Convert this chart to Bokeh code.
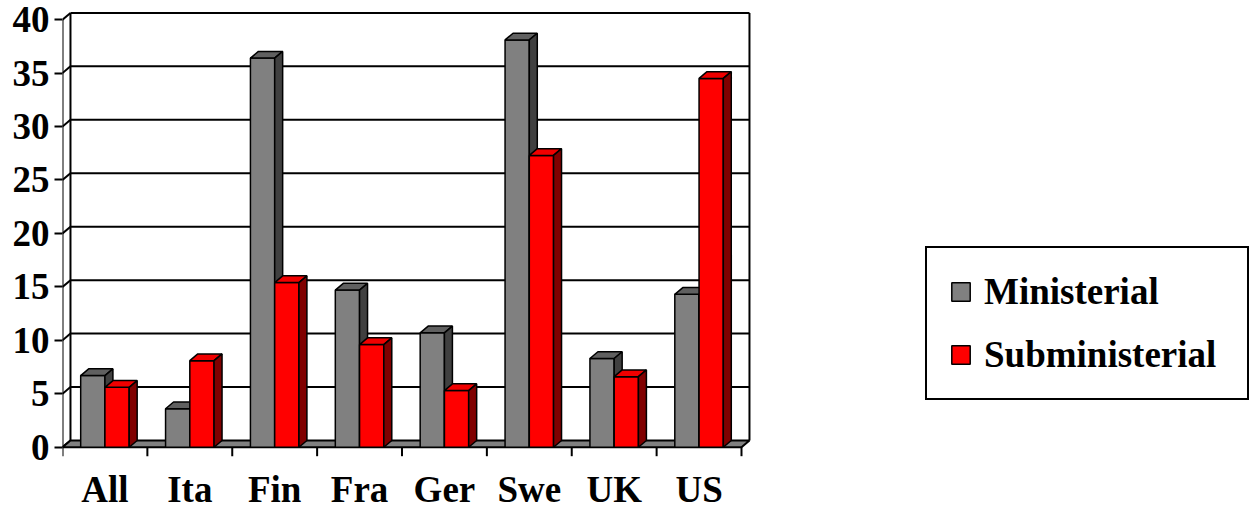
from bokeh.plotting import figure
from bokeh.models import Range1d, FixedTicker, LinearAxis, Legend, LegendItem, ColumnDataSource
from bokeh.core.properties import value
from bokeh.embed import file_html
from bokeh.resources import INLINE

# ---- data ----
categories = ["All", "Ita", "Fin", "Fra", "Ger", "Swe", "UK", "US"]
ministerial = [6.7, 3.6, 36.4, 14.7, 10.7, 38.1, 8.3, 14.3]
subministerial = [5.6, 8.1, 15.4, 9.6, 5.3, 27.3, 6.6, 34.5]
series_names = ["Ministerial", "Subministerial"]
y_ticks = [0, 5, 10, 15, 20, 25, 30, 35, 40]

# ---- styles / geometry ----
FONT = "Liberation Serif"
DX = 0.094   # depth offset in category units
DY = 0.63    # depth offset in value units
BAR_W = 1 / 3.5
GAP = 0.75 / 3.5
TICK_LEN = 0.84      # category tick length in value units
LABEL_Y = -4.0       # category label position in value units
front_colors = ["#808080", "#FF0000"]
top_colors = ["#606060", "#F00000"]
side_colors = ["#404040", "#800000"]
n = len(categories)
ymax = y_ticks[-1]

p = figure(width=1251, height=510, x_range=Range1d(0, 14.009), y_range=Range1d(-5.92, 41.79),
           output_backend="svg", toolbar_location=None, title=None,
           x_axis_type=None, y_axis_type=None,
           min_border_left=62, min_border_right=0, min_border_top=0, min_border_bottom=0)
p.outline_line_color = None
p.background_fill_color = "white"

# back wall gridlines
gx0, gx1, gy0, gy1 = [], [], [], []
for v in y_ticks[1:]:
    gx0.append(DX); gx1.append(n + DX); gy0.append(v + DY); gy1.append(v + DY)
# wall verticals
gx0 += [DX, n + DX]; gx1 += [DX, n + DX]; gy0 += [DY, DY]; gy1 += [ymax + DY, ymax + DY]
p.segment(gx0, gy0, gx1, gy1, line_color="black", line_width=2)

# left side-wall diagonal stubs
p.segment([0] * len(y_ticks), y_ticks, [DX] * len(y_ticks), [v + DY for v in y_ticks],
          line_color="black", line_width=2)

# floor
p.patch([0, n, n + DX, DX], [0, 0, DY, DY], fill_color="#808080", line_color="black", line_width=2)

# front axis line
p.segment([0], [0], [0], [ymax], line_color="black", line_width=2)

# category boundary ticks
bounds = list(range(n + 1))
p.segment(bounds, [0] * len(bounds), bounds, [-TICK_LEN] * len(bounds), line_color="black", line_width=2)

# category labels
centers = [i + 0.5 for i in range(n)]
p.text(x=centers, y=[LABEL_Y] * n, text=categories, text_align="center", text_baseline="alphabetic",
       text_font=value(FONT), text_font_style="bold", text_font_size="37px", text_color="black")

# bars
front_renderers = []
for s, vals in enumerate([ministerial, subministerial]):
    lefts = [i + GAP + s * BAR_W for i in range(n)]
    rights = [l + BAR_W for l in lefts]
    src = ColumnDataSource(dict(left=lefts, right=rights, top=vals, bottom=[0] * n))
    r = p.quad(left="left", right="right", bottom="bottom", top="top", source=src,
               fill_color=front_colors[s], line_color="black", line_width=1.5)
    front_renderers.append(r)
    top_xs = [[l, rr, rr + DX, l + DX] for l, rr in zip(lefts, rights)]
    top_ys = [[v, v, v + DY, v + DY] for v in vals]
    p.patches(top_xs, top_ys, fill_color=top_colors[s], line_color="black", line_width=1.5)
    side_xs = [[rr, rr, rr + DX, rr + DX] for rr in rights]
    side_ys = [[0, v, v + DY, DY] for v in vals]
    p.patches(side_xs, side_ys, fill_color=side_colors[s], line_color="black", line_width=1.5)

# y axis
yaxis = LinearAxis(ticker=FixedTicker(ticks=y_ticks))
yaxis.axis_line_color = None
yaxis.major_tick_out = 8
yaxis.major_tick_in = 0
yaxis.major_tick_line_width = 2
yaxis.minor_tick_line_color = None
yaxis.major_label_standoff = 5
yaxis.major_label_text_font = FONT
yaxis.major_label_text_font_style = "bold"
yaxis.major_label_text_font_size = "37px"
yaxis.major_label_text_color = "black"
p.add_layout(yaxis, "left")

legend = Legend(items=[LegendItem(label=series_names[k], renderers=[front_renderers[k]]) for k in range(2)],
                location=(863, 110))
legend.border_line_color = "black"
legend.border_line_alpha = 1
legend.border_line_width = 2
legend.background_fill_color = "white"
legend.background_fill_alpha = 1
legend.padding = 22
legend.spacing = 20
legend.margin = 0
legend.label_standoff = 12
legend.label_width = 241
legend.glyph_width = 23
legend.glyph_height = 23
legend.label_height = 23
legend.label_text_font = FONT
legend.label_text_font_style = "bold"
legend.label_text_font_size = "37px"
legend.label_text_color = "black"
p.add_layout(legend)

open("out.html", "w").write(file_html(p, INLINE))
